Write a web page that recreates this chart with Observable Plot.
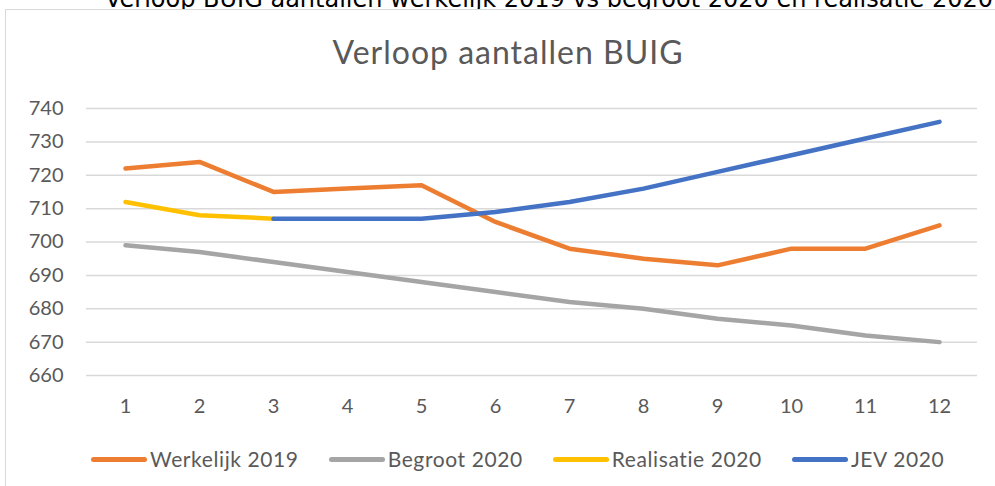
<!DOCTYPE html>
<html>
<head>
<meta charset="utf-8">
<script src="https://cdn.jsdelivr.net/npm/d3@7"></script>
<script src="https://cdn.jsdelivr.net/npm/@observablehq/plot@0.6"></script>
<style>
  html, body { margin: 0; padding: 0; background: #fff; }
  #wrap { position: relative; width: 995px; height: 486px; overflow: hidden; font-family: Lato, "Open Sans", sans-serif; }
  #toptext { position: absolute; left: 105px; top: -13px; white-space: nowrap; font-family: "DejaVu Sans", sans-serif; font-size: 24px; line-height: 24px; color: #000; }
  #frame { position: absolute; left: 5px; top: 9px; width: 1100px; height: 600px; border-left: 1.5px solid #D9D9D9; border-top: 1.5px solid #D9D9D9; background: #fff; }
  #title { position: absolute; left: 0; width: 1016px; top: 32px; text-align: center; font-size: 32px; letter-spacing: 1px; color: #595959; line-height: 40px; }
  #chart { position: absolute; left: 0; top: 0; }
  #legend { position: absolute; left: 91px; top: 447px; display: flex; align-items: center; font-size: 21px; letter-spacing: 0.6px; color: #595959; line-height: 24px; }
  .item { display: flex; align-items: center; margin-right: 30px; }
  .sw { width: 56px; height: 5px; border-radius: 3px; margin-right: 3px; }
</style>
</head>
<body>
<div id="wrap">
  <div id="toptext">Verloop BUIG aantallen werkelijk 2019 vs begroot 2020 en realisatie 2020</div>
  <div id="frame"></div>
  <div id="title">Verloop aantallen BUIG</div>
  <div id="chart"></div>
  <div id="legend"></div>
</div>
<script>
const months = [1, 2, 3, 4, 5, 6, 7, 8, 9, 10, 11, 12];
const seriesNames = ["Werkelijk 2019", "Begroot 2020", "Realisatie 2020", "JEV 2020"];
const seriesColors = ["#ED7D31", "#A5A5A5", "#FFC000", "#4472C4"];
const werkelijk2019 = [722, 724, 715, 716, 717, 706, 698, 695, 693, 698, 698, 705];
const begroot2020 = [699, 697, 694, 691, 688, 685, 682, 680, 677, 675, 672, 670];
const realisatie2020 = [712, 708, 707, null, null, null, null, null, null, null, null, null];
const jev2020 = [null, null, 707, 707, 707, 709, 712, 716, 721, 726, 731, 736];
const yTicks = [660, 670, 680, 690, 700, 710, 720, 730, 740];

const allSeries = [werkelijk2019, begroot2020, realisatie2020, jev2020];
const rows = [];
allSeries.forEach((vals, i) => {
  vals.forEach((v, j) => {
    if (v != null) rows.push({month: months[j], value: v, series: seriesNames[i]});
  });
});

const chart = Plot.plot({
  width: 995,
  height: 430,
  marginLeft: 86,
  marginRight: 18,
  marginTop: 108,
  marginBottom: 55,
  style: {fontFamily: "Lato, 'Open Sans', sans-serif", fontSize: "20px", color: "#595959", background: "transparent", overflow: "visible"},
  x: {type: "point", domain: months, padding: 0.5, label: null},
  y: {domain: [660, 740], label: null},
  color: {domain: seriesNames, range: seriesColors},
  marks: [
    Plot.ruleY(yTicks, {stroke: "#D9D9D9", strokeWidth: 1.5}),
    Plot.axisY({ticks: yTicks, tickSize: 0, tickPadding: 23, fontSize: 20, fill: "#595959"}),
    Plot.axisX({ticks: months, tickSize: 0, tickPadding: 23, fontSize: 20, fill: "#595959"}),
    Plot.line(rows, {x: "month", y: "value", z: "series", stroke: "series", strokeWidth: 4.5, strokeLinecap: "round", strokeLinejoin: "round"})
  ]
});
document.getElementById("chart").appendChild(chart);

const legend = document.getElementById("legend");
seriesNames.forEach((name, i) => {
  const item = document.createElement("div");
  item.className = "item";
  const sw = document.createElement("div");
  sw.className = "sw";
  sw.style.background = seriesColors[i];
  const label = document.createElement("span");
  label.textContent = name;
  item.appendChild(sw);
  item.appendChild(label);
  legend.appendChild(item);
});
</script>
</body>
</html>
